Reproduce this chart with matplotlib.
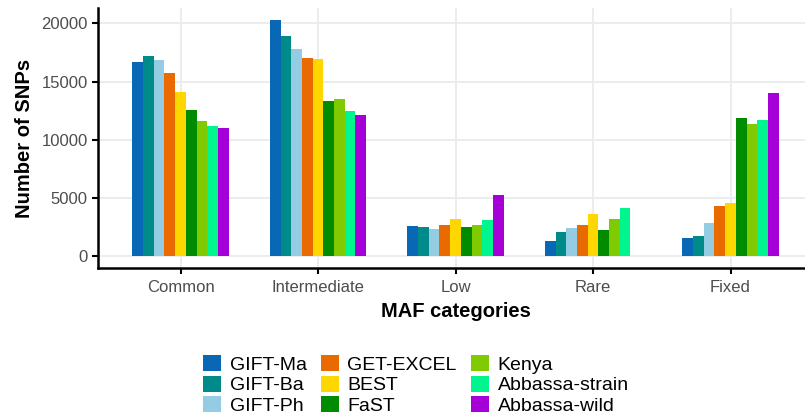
import matplotlib
matplotlib.use("Agg")
import matplotlib.pyplot as plt
import numpy as np
from matplotlib.patches import Patch

plt.rcParams['font.family'] = ['Liberation Sans', 'DejaVu Sans']

categories = ["Common", "Intermediate", "Low", "Rare", "Fixed"]
series_names = ["GIFT-Ma", "GIFT-Ba", "GIFT-Ph", "GET-EXCEL", "BEST", "FaST",
                "Kenya", "Abbassa-strain", "Abbassa-wild"]
colors = ["#0868B5", "#008B8B", "#93CCE3", "#E86A00", "#FFD700", "#008B00",
          "#7FCA00", "#00F58F", "#A600D8"]

gift_ma = [16670, 20310, 2560, 1310, 1540]
gift_ba = [17180, 18890, 2500, 2100, 1710]
gift_ph = [16860, 17830, 2360, 2420, 2870]
get_excel = [15780, 17030, 2700, 2680, 4270]
best = [14070, 16970, 3190, 3620, 4610]
fast = [12530, 13300, 2530, 2220, 11850]
kenya = [11650, 13470, 2700, 3190, 11390]
abbassa_strain = [11220, 12440, 3100, 4100, 11710]
abbassa_wild = [11050, 12100, 5260, 0, 14020]

values = [gift_ma, gift_ba, gift_ph, get_excel, best, fast, kenya,
          abbassa_strain, abbassa_wild]

fig = plt.figure(figsize=(8.05, 4.2), dpi=100)
W, H = 805, 420
left, right, top, bottom = 98, 813, 8, 268
ax = fig.add_axes([left / W, 1 - bottom / H, (right - left) / W, (bottom - top) / H])

x = np.arange(1, len(categories) + 1)
n = len(series_names)
total_w = 0.7
bw = total_w / n
for i, (name, vals, c) in enumerate(zip(series_names, values, colors)):
    ax.bar(x - total_w / 2 + bw * (i + 0.5), vals, width=bw, color=c,
           label=name, zorder=3, linewidth=0)

ax.set_xlim(0.4, 5.6)
ax.set_ylim(-1015, 21325)
ax.set_xticks(x)
ax.set_xticklabels(categories)
ax.set_yticks([0, 5000, 10000, 15000, 20000])
ax.grid(True, color="#EBEBEB", linewidth=1.3, zorder=0)
for s in ["top", "right"]:
    ax.spines[s].set_visible(False)
for s in ["left", "bottom"]:
    ax.spines[s].set_linewidth(1.8)
    ax.spines[s].set_color("black")
ax.tick_params(axis="both", colors="black", length=4, width=1.5,
               labelcolor="#4D4D4D", labelsize=12)
ax.tick_params(axis="x", pad=5)
ax.set_ylabel("Number of SNPs", fontsize=14.5, fontweight="bold", labelpad=5)
ax.set_xlabel("MAF categories", fontsize=14.5, fontweight="bold", labelpad=5)

handles = [Patch(facecolor=c, edgecolor="none", label=nm) for nm, c in zip(series_names, colors)]
leg = fig.legend(handles=handles, ncol=3, loc="center", bbox_to_anchor=(416 / W, 1 - 385 / H),
                 frameon=False, fontsize=14, handlelength=0.9, handleheight=0.9,
                 handletextpad=0.45, columnspacing=0.75, labelspacing=0.1)

fig.savefig("out.png", dpi=100)
